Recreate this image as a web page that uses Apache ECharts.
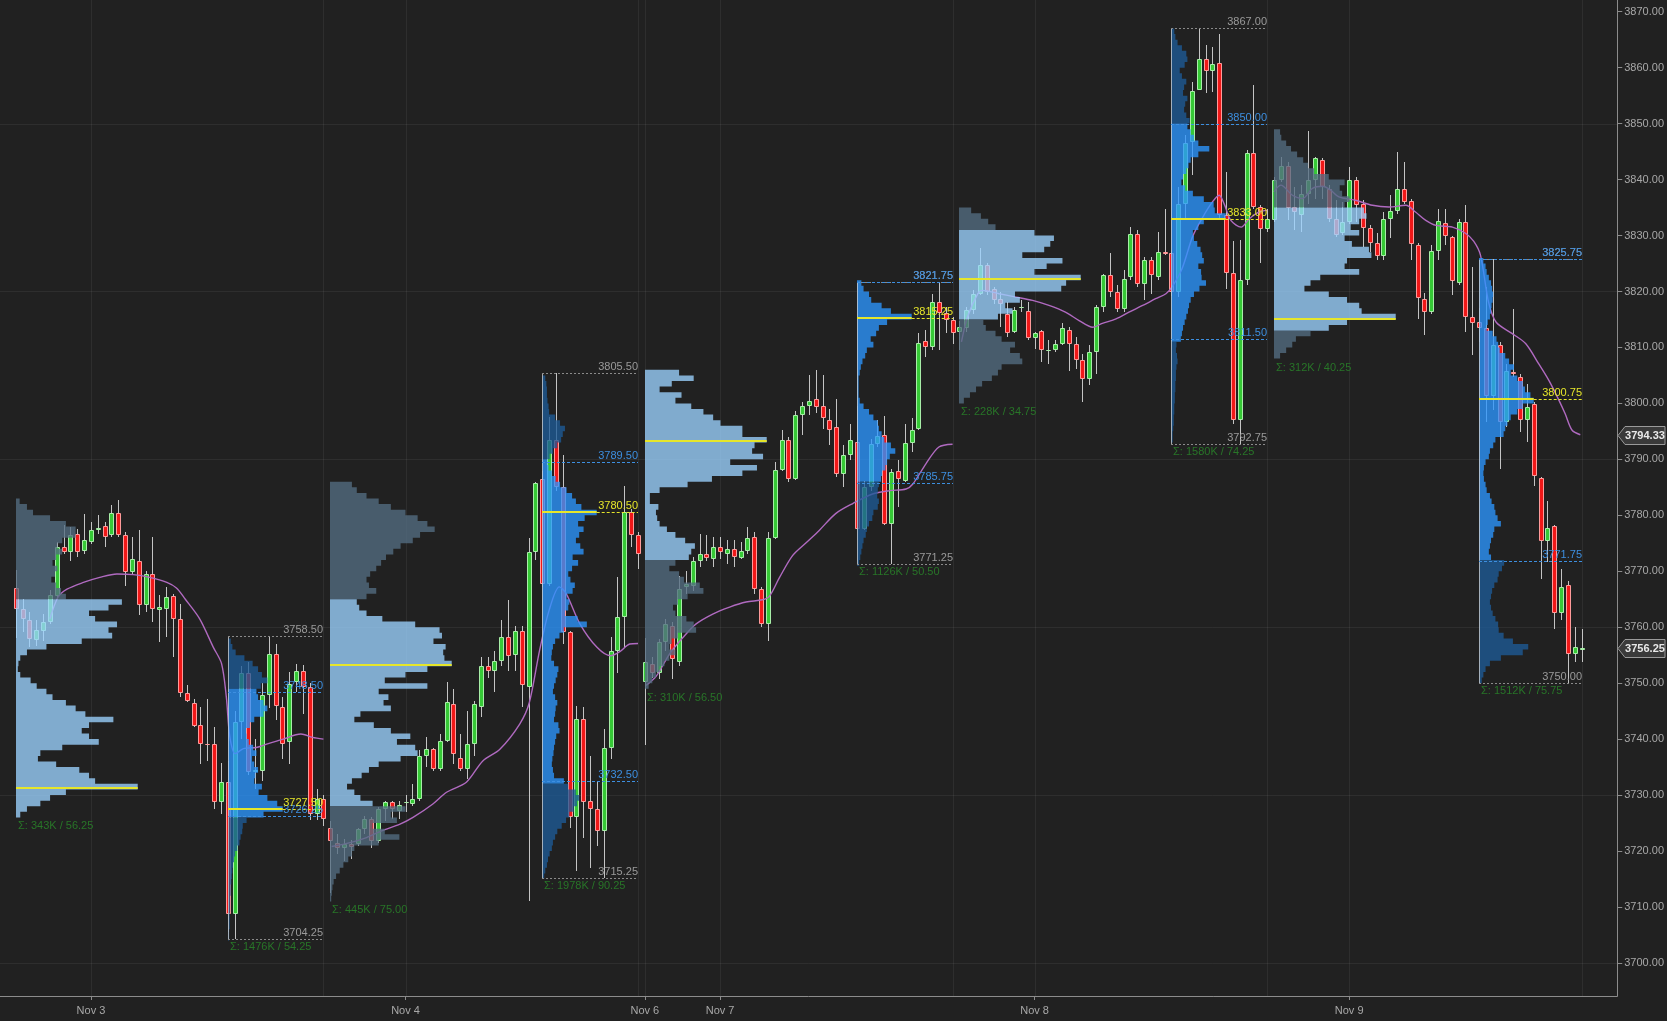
<!DOCTYPE html>
<html><head><meta charset="utf-8">
<script src="https://cdn.jsdelivr.net/npm/echarts@6/dist/echarts.min.js"></script>
<style>html,body{margin:0;padding:0;background:#212121;}#c{width:1667px;height:1021px;}</style>
</head><body><div id="c"></div>
<script>
// ---------- DATA ----------
// candles: [open, high, low, close], sessions in order
const ethA = [[3767.0,3770.2,3758.0,3763.3],[3763.3,3765.1,3759.1,3761.5],[3761.2,3762.7,3756.4,3757.9],[3757.7,3761.2,3756.7,3759.5],[3759.4,3762.4,3757.6,3760.9],[3760.9,3766.6,3760.6,3765.7],[3765.5,3775.2,3765.0,3774.3],[3774.3,3778.2,3773.1,3773.4],[3773.4,3777.9,3771.9,3776.4],[3776.7,3777.6,3772.5,3773.4],[3773.6,3780.3,3773.1,3775.5],[3775.3,3778.8,3774.9,3777.3],[3777.3,3780.0,3776.7,3777.7],[3778.0,3778.8,3774.3,3776.2],[3776.4,3781.8,3776.1,3780.4],[3780.4,3782.7,3776.1,3776.4],[3776.4,3777.0,3767.4,3769.8],[3769.8,3776.1,3769.5,3772.2],[3771.9,3777.3,3762.1,3764.0],[3763.9,3770.1,3762.7,3769.5],[3769.5,3776.1,3760.9,3763.3],[3763.0,3765.7,3757.3,3763.6],[3763.3,3767.1,3758.2,3765.4],[3765.5,3765.9,3754.6,3761.5],[3761.5,3764.2,3747.5,3748.2],[3748.2,3749.6,3746.6,3746.8],[3746.5,3747.2,3742.1,3742.4],[3742.5,3745.7,3735.5,3739.1],[3739.1,3747.2,3736.1,3739.0],[3739.1,3742.1,3727.5,3728.7],[3728.7,3735.8,3726.6,3732.3]];
const rthA = [[3732.3,3736.0,3705.5,3708.7],[3708.7,3745.0,3704.25,3743.0],[3743.0,3753.0,3740.0,3751.8],[3751.8,3753.8,3733.5,3734.1],[3734.1,3740.0,3731.0,3734.4],[3734.3,3750.0,3732.5,3747.8],[3747.8,3758.5,3745.5,3755.2],[3755.2,3757.0,3743.5,3746.0],[3745.7,3747.5,3736.5,3739.1],[3739.4,3752.0,3735.5,3749.9],[3750.2,3753.5,3748.5,3752.2],[3752.2,3753.3,3744.5,3749.3],[3749.3,3750.0,3725.5,3726.6],[3726.6,3731.0,3725.5,3729.3],[3729.3,3730.0,3724.5,3725.7]];
const ethB = [[3724.2,3725.4,3712.5,3721.8],[3721.5,3723.0,3719.4,3720.6],[3720.6,3722.1,3718.2,3721.2],[3721.3,3722.0,3718.5,3720.8],[3721.2,3724.2,3720.9,3723.9],[3723.9,3726.3,3723.0,3725.7],[3725.7,3726.0,3720.6,3721.8],[3721.8,3727.8,3721.5,3727.5],[3727.5,3729.0,3725.4,3728.7],[3728.7,3729.0,3725.7,3727.5],[3727.2,3729.0,3725.7,3728.3],[3728.5,3730.0,3727.0,3728.7],[3728.4,3732.0,3728.0,3729.3],[3729.3,3738.0,3729.0,3737.0],[3737.0,3740.3,3735.0,3738.2],[3738.2,3738.5,3734.3,3734.7],[3734.7,3740.9,3734.3,3739.7],[3739.7,3750.2,3739.4,3746.6],[3746.3,3749.0,3735.5,3737.3],[3736.7,3741.0,3734.3,3734.7],[3734.7,3745.0,3732.9,3739.1],[3739.1,3746.9,3737.0,3746.3],[3745.7,3754.6,3743.9,3753.1],[3753.0,3754.6,3751.0,3752.1],[3752.1,3755.8,3748.4,3753.9],[3754.0,3761.2,3753.1,3758.2],[3758.2,3764.8,3752.2,3754.9],[3755.0,3760.3,3752.2,3759.4],[3759.4,3760.3,3745.7,3749.6],[3749.3,3776.0,3711.0,3773.4],[3773.4,3786.0,3772.0,3785.8]];
const rthB = [[3786.5,3788.0,3767.1,3767.7],[3767.7,3797.6,3767.4,3793.4],[3793.4,3805.5,3784.4,3785.0],[3785.0,3790.7,3757.0,3759.1],[3759.1,3759.4,3724.2,3726.0],[3726.0,3746.0,3716.5,3743.6],[3743.6,3745.7,3722.4,3728.7],[3729.0,3737.0,3717.0,3727.5],[3727.5,3732.3,3720.9,3723.6],[3723.6,3741.8,3715.25,3738.5],[3738.5,3758.2,3736.4,3755.8],[3755.8,3768.9,3751.9,3761.8],[3761.8,3785.3,3756.4,3780.6],[3780.6,3781.2,3774.3,3776.4],[3776.4,3777.0,3770.4,3773.1]];
const ethC = [[3750.2,3758.0,3739.0,3753.7],[3753.4,3754.6,3751.0,3751.9],[3751.9,3757.9,3750.7,3757.3],[3757.3,3761.5,3755.8,3760.6],[3760.3,3760.9,3750.7,3754.3],[3753.7,3769.2,3753.1,3766.9],[3767.2,3770.0,3766.0,3767.7],[3767.4,3772.5,3766.5,3771.9],[3771.9,3776.7,3770.7,3773.1],[3773.1,3776.4,3771.9,3772.4],[3772.2,3776.1,3770.7,3774.3],[3774.3,3776.1,3772.2,3773.4],[3773.1,3775.5,3771.3,3774.0],[3774.0,3775.5,3770.7,3772.5],[3772.4,3775.2,3772.2,3773.6],[3773.6,3777.9,3773.1,3776.0],[3776.2,3777.0,3766.0,3766.9],[3766.9,3767.2,3760.0,3760.6],[3760.6,3777.0,3757.6,3776.0],[3776.0,3789.5,3775.8,3788.1],[3788.1,3795.2,3787.9,3793.4],[3793.4,3794.0,3785.9,3786.5],[3786.5,3798.7,3786.3,3797.9],[3797.9,3800.2,3794.3,3799.5],[3799.5,3805.0,3797.9,3800.5],[3800.8,3806.0,3798.2,3799.3],[3799.5,3805.0,3795.5,3797.4],[3797.1,3799.0,3792.5,3795.2],[3795.8,3800.8,3786.8,3787.4],[3787.4,3792.5,3785.0,3790.7],[3790.7,3796.4,3789.8,3793.4]];
const rthC = [[3793.1,3799.6,3777.3,3777.6],[3777.6,3786.2,3777.3,3785.0],[3785.0,3793.7,3784.4,3792.8],[3792.8,3797.1,3792.2,3794.1],[3794.4,3797.7,3778.2,3778.5],[3778.5,3788.3,3771.25,3787.7],[3787.9,3789.8,3781.4,3786.5],[3786.2,3796.4,3786.0,3792.9],[3792.9,3797.3,3791.3,3795.3],[3795.5,3812.5,3795.2,3810.8],[3811.2,3813.1,3808.3,3810.0],[3810.0,3819.6,3809.5,3818.1],[3818.1,3821.75,3809.5,3816.2],[3816.2,3817.2,3812.5,3814.9],[3814.9,3815.4,3810.7,3812.5]];
const ethD = [[3812.8,3814.8,3809.5,3813.6],[3813.4,3817.2,3812.8,3816.6],[3816.6,3820.2,3816.0,3819.6],[3819.6,3827.7,3819.3,3824.7],[3824.7,3825.0,3819.3,3819.9],[3820.5,3820.8,3817.8,3818.4],[3818.7,3819.9,3813.6,3817.7],[3816.0,3818.1,3811.9,3812.6],[3812.8,3817.2,3812.5,3816.6],[3817.2,3818.4,3816.3,3817.3],[3816.5,3818.1,3811.3,3811.6],[3811.6,3812.8,3809.8,3812.6],[3812.9,3813.1,3807.4,3809.5],[3809.5,3811.4,3807.1,3809.6],[3809.5,3811.3,3809.2,3810.7],[3810.7,3814.3,3810.4,3813.5],[3813.2,3813.7,3805.8,3810.7],[3810.7,3811.9,3806.2,3807.7],[3807.7,3808.9,3800.2,3804.4],[3804.4,3810.4,3803.2,3809.2],[3809.2,3817.5,3805.3,3817.2],[3817.2,3823.2,3816.3,3822.9],[3822.9,3826.8,3819.0,3819.9],[3819.9,3821.1,3816.3,3816.9],[3816.9,3823.8,3816.3,3822.3],[3822.6,3831.5,3822.0,3830.3],[3830.2,3831.0,3820.8,3821.4],[3821.4,3826.2,3818.4,3825.6],[3825.6,3826.2,3819.6,3822.9],[3822.6,3830.6,3822.0,3827.1],[3827.1,3834.75,3826.5,3826.7]];
const rthD = [[3826.9,3827.4,3819.2,3819.9],[3819.9,3838.7,3819.0,3835.6],[3835.6,3848.0,3833.0,3846.6],[3846.7,3857.5,3840.8,3855.9],[3856.0,3867.0,3856.0,3861.5],[3861.5,3864.0,3855.4,3859.4],[3859.4,3863.7,3855.7,3860.6],[3860.9,3866.1,3833.0,3833.6],[3833.6,3841.4,3820.5,3823.3],[3823.3,3829.0,3796.4,3797.1],[3797.1,3829.2,3792.75,3822.0],[3822.1,3845.3,3821.1,3844.8],[3844.8,3856.9,3834.8,3835.1],[3835.1,3835.4,3825.0,3831.2],[3831.2,3834.8,3830.7,3832.9]];
const ethE = [[3832.7,3840.5,3832.5,3840.0],[3839.9,3844.1,3839.6,3842.5],[3842.4,3843.2,3832.7,3835.0],[3835.1,3838.7,3830.9,3834.2],[3833.6,3839.0,3830.7,3837.4],[3837.4,3848.75,3835.7,3840.0],[3840.0,3844.1,3836.6,3843.8],[3843.5,3843.8,3836.6,3838.7],[3838.4,3839.0,3832.4,3833.0],[3833.0,3836.3,3829.8,3830.1],[3830.4,3836.0,3830.1,3832.4],[3832.4,3842.3,3832.1,3839.9],[3840.0,3840.5,3832.4,3835.4],[3835.7,3836.3,3828.0,3831.3],[3831.4,3831.8,3827.1,3828.6],[3828.7,3830.4,3825.6,3826.3],[3826.3,3834.2,3825.6,3833.0],[3833.0,3837.2,3829.5,3834.4],[3834.4,3845.0,3833.9,3838.4],[3838.4,3843.2,3835.7,3836.0],[3836.1,3836.6,3825.6,3828.4],[3828.3,3828.6,3815.1,3818.9],[3818.6,3819.7,3812.2,3816.3],[3816.3,3828.3,3816.0,3827.3],[3827.3,3834.8,3825.6,3832.6],[3832.3,3834.8,3828.3,3829.9],[3829.8,3830.0,3819.3,3821.9],[3821.5,3833.0,3821.1,3832.4],[3832.4,3835.4,3812.8,3815.4],[3815.4,3824.4,3808.6,3814.4]];
const rthE = [[3814.5,3817.0,3811.0,3813.4],[3813.4,3820.8,3796.7,3801.4],[3801.4,3825.75,3798.8,3810.4],[3810.4,3811.0,3788.3,3796.7],[3796.7,3807.1,3795.8,3805.8],[3805.6,3816.9,3804.7,3805.2],[3804.8,3805.3,3794.9,3797.1],[3797.1,3803.5,3793.1,3799.3],[3799.8,3800.2,3785.3,3787.0],[3786.6,3786.8,3768.6,3775.4],[3775.4,3782.6,3771.6,3777.8],[3778.0,3778.2,3759.7,3762.5],[3762.5,3770.4,3761.2,3767.2],[3767.6,3768.3,3750.0,3755.2],[3755.2,3760.0,3753.7,3756.5],[3756.0,3759.7,3753.7,3756.25]];

// moving average, read at sample points [candle index, value], one list per day
const maA = [[5,3761.5],[6.2,3765.4],[7.5,3766.8],[9.9,3768.0],[12.3,3768.9],[14.8,3769.5],[17.2,3769.4],[19.6,3768.9],[22.1,3768.0],[23.5,3767.0],[24.8,3765.0],[26.9,3761.5],[28.9,3756.4],[30.1,3753.5],[30.8,3747.5],[31.3,3740.5],[32.1,3737.4],[33.3,3738.3],[35.2,3738.5],[36.7,3739.1],[39.1,3740.0],[41.7,3740.9],[43.4,3740.3],[45,3740.0]];
const maB = [[46.2,3720.8],[48.9,3721.5],[51.3,3722.4],[53.5,3723.6],[56.2,3724.8],[58.1,3726.0],[61,3728.4],[63,3730.5],[65.9,3732.3],[68.3,3736.1],[70.8,3738.2],[73.7,3742.7],[75.1,3746.5],[76.6,3755.8],[78,3763.0],[79.5,3767.2],[80.5,3766.0],[82.5,3760.6],[85,3756.4],[87,3754.9],[88.3,3755.6],[89.8,3757.0],[91,3757.1]];
const maC = [[92.2,3749.6],[93.7,3751.3],[95.6,3755.2],[97.6,3758.2],[99.5,3760.6],[102,3762.4],[104.4,3763.6],[106.8,3764.5],[109.2,3764.9],[110.2,3765.5],[111.7,3768.9],[113.6,3772.8],[115.5,3775.0],[117.5,3777.3],[119.9,3780.3],[122.4,3782.1],[125.3,3783.8],[127.8,3784.4],[130.2,3784.7],[131.2,3785.6],[133.1,3789.2],[135,3792.2],[137,3792.7]];
const maD = [[138.3,3811.0],[139.2,3815.5],[140.7,3819.6],[141.4,3820.2],[143.8,3819.6],[146.3,3819.0],[148.7,3818.4],[151.1,3817.5],[153.5,3816.3],[155.5,3814.8],[157.5,3813.6],[158.9,3814.3],[160.9,3815.1],[162.8,3816.3],[164.8,3817.5],[166.7,3818.7],[168.2,3819.6],[169.2,3821.0],[170.6,3824.2],[172.1,3829.8],[173.6,3833.3],[175,3836.0],[176,3837.2],[176.7,3835.7],[177.7,3832.7],[179.2,3831.5],[180.4,3833.0],[181.8,3834.2],[183,3834.5]];
const maE = [[184,3837.8],[185,3839.0],[186.7,3837.2],[188.2,3836.6],[189.6,3838.4],[191.1,3838.8],[192.3,3838.1],[193.5,3836.9],[195.9,3836.3],[198.4,3835.4],[200.8,3835.1],[203.3,3835.4],[204.7,3834.2],[206.2,3832.7],[207.7,3831.8],[210.1,3831.5],[212,3830.4],[213.2,3829.0],[214.2,3826.5],[215.4,3818.0],[216.5,3814.5],[218.8,3812.5],[220.8,3810.7],[222.7,3807.1],[224.2,3804.1],[225.7,3800.5],[226.6,3798.1],[227.6,3795.2],[228.8,3794.4]];

// volume profiles (relative volume per 1-point row, top to bottom)
const profKind  = ['ETH','RTH','ETH','RTH','ETH','RTH','ETH','RTH','ETH','RTH'];
const profStart = [0,31,46,77,92,123,138,169,184,214];
const profEnd   = [30,45,76,91,122,137,168,183,213,229];
const profHigh  = [3782.75,3758.50,3786.00,3805.50,3806.00,3821.75,3834.75,3867.00,3848.75,3825.75];
const profLow   = [3726.50,3704.25,3711.00,3715.25,3749.50,3771.25,3800.00,3792.75,3808.50,3750.00];
const profVAH   = [3765.25,3748.50,3765.25,3789.50,3806.00,3821.75,3831.25,3850.00,3834.75,3825.75];
const profVAL   = [3726.50,3726.25,3728.00,3732.50,3772.00,3785.75,3814.75,3811.50,3812.75,3771.75];
const profPOC   = [3731.25,3727.50,3753.25,3780.50,3793.25,3815.25,3822.25,3833.00,3815.00,3800.75];
const profRowTop= [3783,3758,3786,3805,3806,3822,3835,3867,3849,3826];
const profSigma = ['Σ: 343K / 56.25','Σ: 1476K / 54.25','Σ: 445K / 75.00','Σ: 1978K / 90.25','Σ: 310K / 56.50','Σ: 1126K / 50.50','Σ: 228K / 34.75','Σ: 1580K / 74.25','Σ: 312K / 40.25','Σ: 1512K / 75.75'];
const volEthA = [3,9,14,28,41,49,49,38,34,38,33,30,34,32,29,33,37,41,87,76,60,65,83,76,79,54,25,9,3.5,2,1.5,3.5,12,17,25,30,41,49,57,80,60,54,60,68,38,20,18,33,52,60,65,100,41,28,20,9,3.5];
const volRthA = [5,8,14,30,45,55,62,72,60,52,55,65,72,65,48,40,33,34,38,46,52,44,48,55,50,48,62,56,72,90,100,65,34,27,26,23,21,17,13,11,9,8,7,6,5,5,4,4,4,3,3,3,2,2];
const volEthB = [18,22,30,40,50,62,72,80,86,74,68,58,52,46,42,38,33,30,32,38,30,22,24,30,43,70,90,92,85,95,93,94,100,80,62,45,80,40,48,44,50,25,20,36,50,66,55,70,72,58,40,32,26,18,14,20,25,35,62,50,55,35,45,57,40,20,18,15,11,8,5,3,2,1.5,1];
const volRthB = [6,8,9,9,10,12,13,24,33,42,38,35,28,20,14,10,12,18,25,33,45,55,62,72,100,78,66,76,68,62,70,76,56,66,55,48,52,60,56,45,50,48,42,65,82,40,32,24,20,18,17,22,30,28,25,22,20,24,28,25,24,22,30,32,26,24,22,21,19,18,20,22,40,48,62,68,64,58,50,44,36,28,24,20,18,14,11,9,6,4];
const volEthC = [28,40,22,12,30,25,38,48,56,62,80,80,100,90,88,97,70,92,80,55,35,12,4,4,11,9,10,12,18,25,33,41,38,36,25,20,28,32,45,48,35,27,23,25,34,40,42,27,22,20,25,20,16,12,9,6,3];
const volRthC = [8,12,22,26,45,62,100,55,40,35,25,30,18,15,10,7,5,3,3,3,3,5,12,22,30,38,40,45,50,62,70,60,55,52,46,44,40,38,37,40,38,30,28,22,18,16,12,10,8,6,4];
const volEthD = [10,18,24,30,62,78,75,70,52,85,72,62,100,88,84,46,50,38,44,32,20,22,30,35,46,42,50,52,35,32,27,19,14,9,4];
const volRthD = [6,8,12,20,28,30,25,16,20,28,24,22,30,26,24,28,34,30,36,42,50,70,50,36,32,28,22,19,26,40,60,78,80,100,60,50,40,42,48,54,57,60,50,55,56,64,52,42,36,33,31,28,25,22,20,18,10,9,11,12,10,9,9,8,8,7,7,6,6,5,5,4,3,3];
const volEthE = [5,6,10,14,19,24,28,33,45,58,54,56,62,58,74,76,70,63,70,58,64,78,80,60,58,70,38,30,25,45,60,70,72,100,60,45,30,18,15,10,5];
const volRthE = [8,12,14,18,22,24,26,25,23,22,20,16,14,25,32,35,38,48,55,64,58,70,80,84,94,100,80,70,58,52,48,45,30,26,20,18,12,9,8,9,12,14,20,23,28,30,34,40,28,26,22,20,18,22,46,42,36,34,28,24,22,20,22,25,30,35,36,45,62,90,80,40,20,12,8,5];
const profVols = [volEthA, volRthA, volEthB, volRthB, volEthC, volRthC, volEthD, volRthD, volEthE, volRthE];

// axis labels / ticks / tags
const xLabelPos = [11, 57, 92, 103, 149, 195];
const xLabelText = ['Nov 3', 'Nov 4', 'Nov 6', 'Nov 7', 'Nov 8', 'Nov 9'];
const yTickValues = [3700,3710,3720,3730,3740,3750,3760,3770,3780,3790,3800,3810,3820,3830,3840,3850,3860,3870];
const gridXValues = [11,45,57,91,92,103,137,149,183,195,229];
const gridYValues = [3700,3730,3760,3790,3820,3850];
const tagValues = [3794.33, 3756.25];

// ---------- CHART ----------
const X_MIN = -2.3, X_MAX = 234.2, Y_MIN = 3694.09, Y_MAX = 3872.09;
const ETH_W = 17.8, RTH_W = 8.0;
const FONT_FAM = '"Liberation Sans", Arial, sans-serif';
const FONT = '11px ' + FONT_FAM;
const COL = {
  ethVA: 'rgb(155,210,255)', ethOut: 'rgb(83,109,129)',
  rthVA: 'rgb(44,150,255)', rthOut: 'rgb(29,91,151)',
  grey: '#9a9a9a', blue: '#3d8fe0', yellow: '#e6e62a', green: '#287528'
};

const candles = [].concat(ethA, rthA, ethB, rthB, ethC, rthC, ethD, rthD, ethE, rthE);
const candleData = candles.map((d, i) => [i, d[0], d[1], d[2], d[3]]);

function txt(text, x, y, fill, align, valign, font) {
  return { type: 'text', style: { text: text, x: x, y: y, fill: fill, font: font || FONT,
    align: align, verticalAlign: valign, textAlign: align, textVerticalAlign: valign } };
}
function hline(x1, x2, y, stroke, w, dash) {
  const yy = Math.round(y) + (w % 2 ? 0.5 : 0);
  return { type: 'line', shape: { x1: x1, y1: yy, x2: x2, y2: yy },
    style: { stroke: stroke, lineWidth: w, lineDash: dash || null } };
}

function renderGrid(params, api) {
  const cs = params.coordSys;
  const v = api.value(0), dir = api.value(2);
  if (dir === 0) {
    const x = Math.round(api.coord([v, Y_MIN])[0]) + 0.5;
    return { type: 'line', shape: { x1: x, y1: cs.y, x2: x, y2: cs.y + cs.height }, style: { stroke: 'rgba(255,255,255,0.06)', lineWidth: 1 } };
  }
  const y = Math.round(api.coord([X_MIN, api.value(1)])[1]) + 0.5;
  return { type: 'line', shape: { x1: cs.x, y1: y, x2: cs.x + cs.width, y2: y }, style: { stroke: 'rgba(255,255,255,0.06)', lineWidth: 1 } };
}

function renderCandle(params, api) {
  const i = api.value(0), o = api.value(1), h = api.value(2), l = api.value(3), c = api.value(4);
  const cx = Math.round(api.coord([i, o])[0]);
  const yo = api.coord([i, o])[1], yc = api.coord([i, c])[1];
  const yh = Math.round(api.coord([i, h])[1]), yl = Math.round(api.coord([i, l])[1]);
  const up = c >= o;
  const top = Math.round(Math.min(yo, yc)), bot = Math.round(Math.max(yo, yc));
  const hgt = Math.max(0, bot - top - 1);
  return { type: 'group', children: [
    { type: 'line', shape: { x1: cx + 0.5, y1: yh, x2: cx + 0.5, y2: yl }, style: { stroke: '#c4c4c4', lineWidth: 1 } },
    { type: 'rect', shape: { x: cx - 1.5, y: top + 0.5, width: 4, height: hgt },
      style: { fill: up ? '#36c936' : '#f01818', stroke: up ? '#a8eea8' : '#ff9a9a', lineWidth: 1 } }
  ] };
}

function renderProfile(params, api) {
  const p = params.dataIndex;
  const eth = profKind[p] === 'ETH';
  const unit = api.size([1, 0])[0];
  const maxW = (eth ? ETH_W : RTH_W) * unit;
  const xL = Math.round(api.coord([profStart[p], Y_MIN])[0]);
  const xR = Math.round(api.coord([profEnd[p], Y_MIN])[0]);
  const Y = v => api.coord([X_MIN, v])[1];
  const vols = profVols[p], top = profRowTop[p];
  const inVA = k => { const c = top - k - 0.5; return c <= profVAH[p] + 0.01 && c >= profVAL[p] - 0.01; };
  const children = [];
  let k = 0;
  while (k < vols.length) {
    const va = inVA(k);
    let k1 = k;
    while (k1 + 1 < vols.length && inVA(k1 + 1) === va) k1++;
    const pts = [[xL, Y(top - k)]];
    for (let j = k; j <= k1; j++) {
      const w = xL + vols[j] / 100 * maxW;
      pts.push([w, Y(top - j)], [w, Y(top - j - 1)]);
    }
    pts.push([xL, Y(top - k1 - 1)]);
    const fill = eth ? (va ? COL.ethVA : COL.ethOut) : (va ? COL.rthVA : COL.rthOut);
    children.push({ type: 'polygon', shape: { points: pts }, style: { fill: fill, opacity: 0.78 } });
    k = k1 + 1;
  }
  const yPOC = Y(profPOC[p]);
  if (eth) {
    children.push(hline(xL, xL + maxW, yPOC, COL.yellow, 2));
    const yb = Y(top - vols.length);
    children.push(txt(profSigma[p], xL + 2, yb + 9, COL.green, 'left', 'middle'));
  } else {
    const yH = Y(profHigh[p]), yLo = Y(profLow[p]);
    children.push({ type: 'line', shape: { x1: xL + 0.5, y1: Math.round(yH), x2: xL + 0.5, y2: Math.round(yLo) }, style: { stroke: 'rgba(210,210,210,0.75)', lineWidth: 1 } });
    children.push(hline(xL, xR, yH, '#8a8a8a', 1, [2, 2]));
    children.push(hline(xL, xR, yLo, '#8a8a8a', 1, [2, 2]));
    children.push(hline(xL, xR, Y(profVAH[p]), COL.blue, 1, [3, 2]));
    children.push(hline(xL, xR, Y(profVAL[p]), COL.blue, 1, [3, 2]));
    children.push(hline(xL, xL + maxW, yPOC, COL.yellow, 2));
    children.push(hline(xL + maxW, xR, yPOC, COL.yellow, 1, [3, 2]));
    children.push(txt(profHigh[p].toFixed(2), xR, Math.round(yH) - 1, COL.grey, 'right', 'bottom'));
    children.push(txt(profLow[p].toFixed(2), xR, Math.round(yLo) - 1, COL.grey, 'right', 'bottom'));
    children.push(txt(profVAH[p].toFixed(2), xR, Math.round(Y(profVAH[p])) - 1, COL.blue, 'right', 'bottom'));
    children.push(txt(profVAL[p].toFixed(2), xR, Math.round(Y(profVAL[p])) - 1, COL.blue, 'right', 'bottom'));
    children.push(txt(profPOC[p].toFixed(2), xR, Math.round(yPOC) - 1, COL.yellow, 'right', 'bottom'));
    children.push(txt(profSigma[p], xL + 2, yLo + 8, COL.green, 'left', 'middle'));
  }
  return { type: 'group', children: children };
}

function renderTag(params, api) {
  const v = api.value(1);
  const pt = api.coord([X_MAX, v]);
  const x = Math.round(pt[0]), y = Math.round(pt[1]) + 0.5;
  return { type: 'group', children: [
    { type: 'polygon', shape: { points: [[x + 1, y], [x + 8, y - 9], [x + 48, y - 9], [x + 48, y + 9], [x + 8, y + 9]] },
      style: { fill: '#3a3a3a', stroke: '#9a9a9a', lineWidth: 1 } },
    txt(v.toFixed(2), x + 28, y, '#e8e8e8', 'center', 'middle', 'bold 11px ' + FONT_FAM)
  ] };
}

const maData = [].concat(maA, [[45.5, '-']], maB, [[91.5, '-']], maC, [[137.5, '-']], maD, [[183.5, '-']], maE);
const gridData = [].concat(gridXValues.map(v => [v, Y_MIN, 0]), gridYValues.map(v => [X_MIN, v, 1]));

const chart = echarts.init(document.getElementById('c'));
chart.setOption({
  backgroundColor: '#212121',
  animation: false,
  grid: { left: 0, top: 0, width: 1618, height: 996 },
  xAxis: {
    type: 'value', min: X_MIN, max: X_MAX,
    axisLine: { show: true, onZero: false, lineStyle: { color: '#8c8c8c', width: 1 } },
    axisTick: { show: true, customValues: xLabelPos, length: 4, lineStyle: { color: '#8c8c8c' } },
    axisLabel: { show: true, customValues: xLabelPos, margin: 9, color: '#a8a8a8', fontSize: 11, fontFamily: FONT_FAM,
      formatter: v => { const k = xLabelPos.indexOf(Math.round(v)); return k >= 0 ? xLabelText[k] : ''; } },
    splitLine: { show: false }
  },
  yAxis: {
    type: 'value', position: 'right', min: Y_MIN, max: Y_MAX, scale: true,
    axisLine: { show: true, onZero: false, lineStyle: { color: '#8c8c8c', width: 1 } },
    axisTick: { show: true, customValues: yTickValues, length: 5, lineStyle: { color: '#8c8c8c' } },
    axisLabel: { show: true, customValues: yTickValues, margin: 7, color: '#a8a8a8', fontSize: 11, fontFamily: FONT_FAM,
      formatter: v => v.toFixed(2) },
    splitLine: { show: false }
  },
  series: [
    { type: 'custom', name: 'grid', z: 1, silent: true, renderItem: renderGrid, data: gridData, clip: true },
    { type: 'custom', name: 'candles', z: 2, silent: true, renderItem: renderCandle, data: candleData, clip: true },
    { type: 'line', name: 'MA', z: 3, silent: true, data: maData, showSymbol: false, smooth: 0.3,
      lineStyle: { color: '#b06ac0', width: 1.4 } },
    { type: 'custom', name: 'profiles', z: 4, silent: true, renderItem: renderProfile,
      data: profStart.map((s, i) => [s, profHigh[i]]), clip: true },
    { type: 'custom', name: 'tags', z: 6, silent: true, renderItem: renderTag,
      data: tagValues.map(v => [X_MAX, v]), clip: false }
  ]
});
</script></body></html>
